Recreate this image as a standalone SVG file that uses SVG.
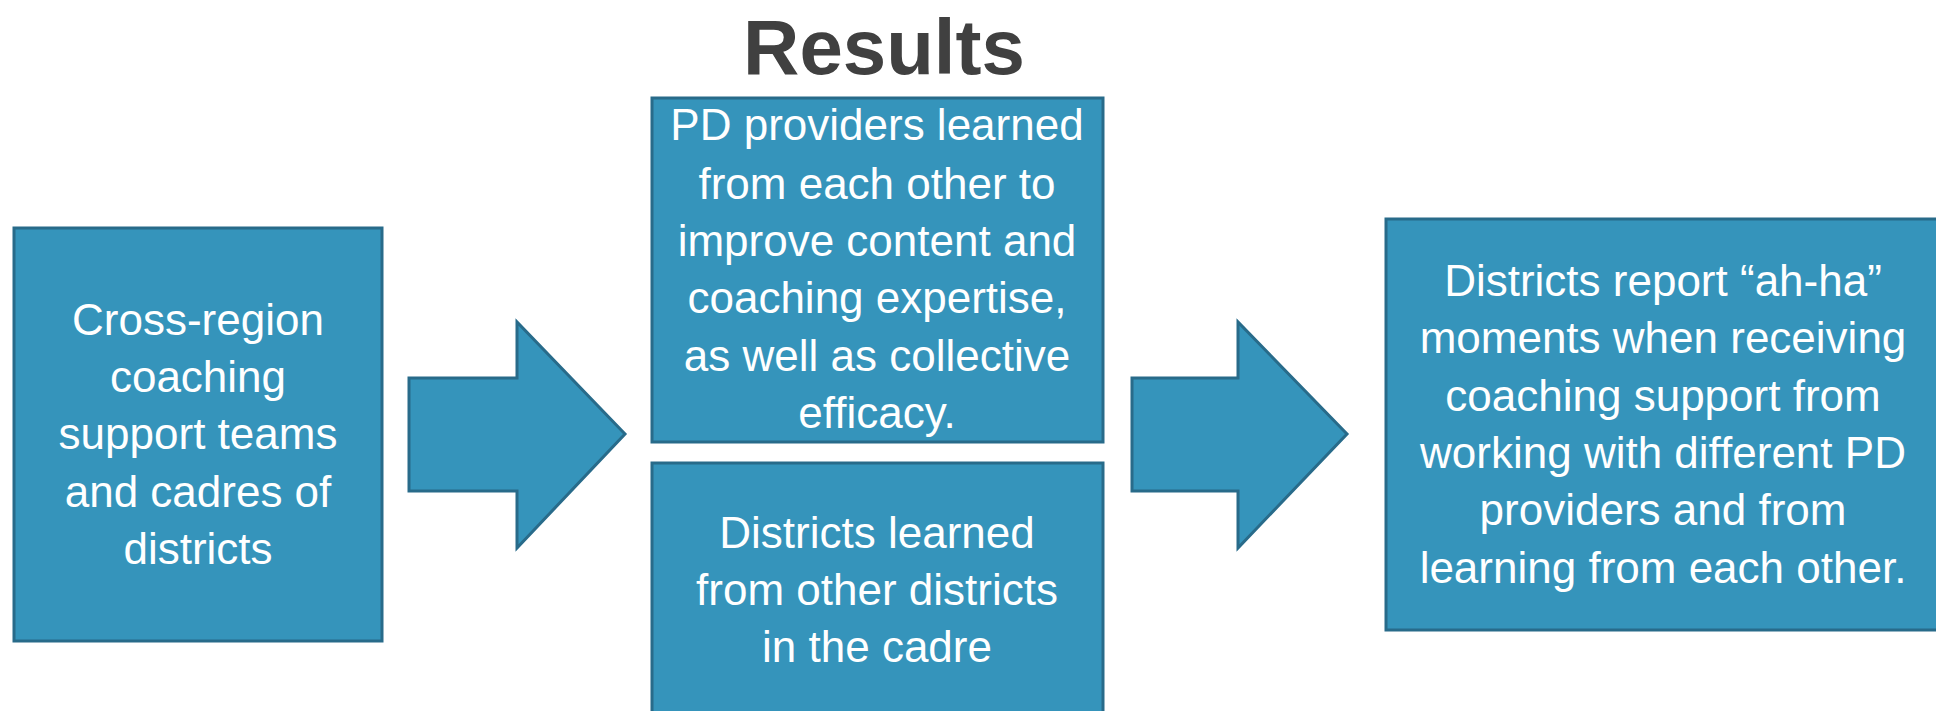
<svg xmlns="http://www.w3.org/2000/svg" width="1936" height="711" viewBox="0 0 1936 711">
<style>
.box{fill:#3594bb;stroke:#286b8a;stroke-width:3}
.arrow{fill:#3594bb;stroke:#286b8a;stroke-width:3;stroke-linejoin:miter}
.t{font-family:"Liberation Sans",Arial,sans-serif;font-size:44px;fill:#ffffff;text-anchor:middle}
.title{font-family:"Liberation Sans",Arial,sans-serif;font-size:78px;font-weight:bold;fill:#404040;text-anchor:middle}
</style>
<rect width="1936" height="711" fill="#ffffff"/>
<text class="title" x="884" y="74">Results</text>
<g id="node-cross-region">
<rect class="box" x="14" y="228" width="368" height="413"/>
<text class="t"><tspan x="198" y="335">Cross-region</tspan><tspan x="198" y="392">coaching</tspan><tspan x="198" y="449">support teams</tspan><tspan x="198" y="507">and cadres of</tspan><tspan x="198" y="564">districts</tspan></text>
</g>
<g id="node-pd-providers">
<rect class="box" x="652" y="98" width="451" height="344"/>
<text class="t"><tspan x="877" y="140">PD providers learned</tspan><tspan x="877" y="199">from each other to</tspan><tspan x="877" y="256">improve content and</tspan><tspan x="877" y="313">coaching expertise,</tspan><tspan x="877" y="371">as well as collective</tspan><tspan x="877" y="428">efficacy.</tspan></text>
</g>
<g id="node-districts-learned">
<rect class="box" x="652" y="463" width="451" height="270"/>
<text class="t"><tspan x="877" y="548">Districts learned</tspan><tspan x="877" y="605">from other districts</tspan><tspan x="877" y="662">in the cadre</tspan></text>
</g>
<g id="node-districts-report">
<rect class="box" x="1386" y="219" width="570" height="411"/>
<text class="t"><tspan x="1663" y="296">Districts report “ah-ha”</tspan><tspan x="1663" y="353">moments when receiving</tspan><tspan x="1663" y="411">coaching support from</tspan><tspan x="1663" y="468">working with different PD</tspan><tspan x="1663" y="525">providers and from</tspan><tspan x="1663" y="583">learning from each other.</tspan></text>
</g>
<g id="connectors">
<polygon class="arrow" points="409,378 517,378 517,322 625,434 517,548 517,491 409,491"/>
<polygon class="arrow" points="1132,378 1238,378 1238,322 1347,434 1238,548 1238,491 1132,491"/>
</g>
</svg>
